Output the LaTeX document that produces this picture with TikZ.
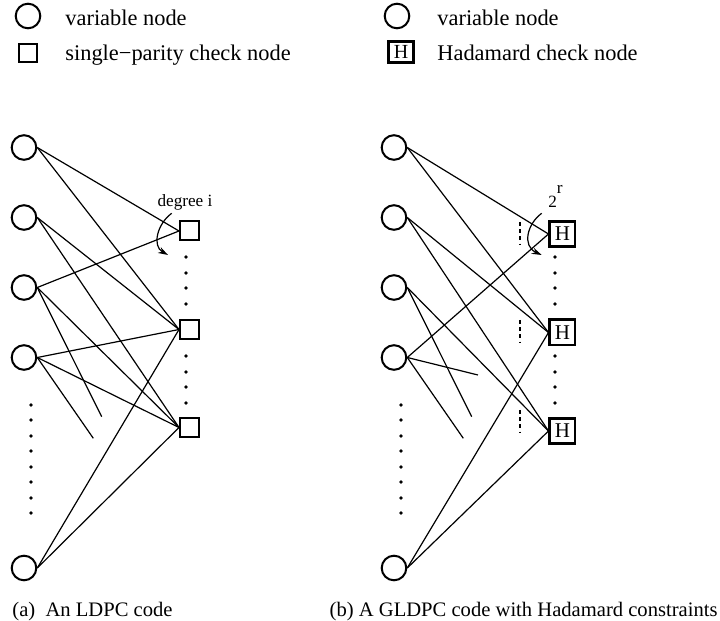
\documentclass[tikz,border=0pt]{standalone}
\usepackage{fontspec}
\setmainfont{Liberation Serif}
\usetikzlibrary{arrows.meta}
\newcommand{\legendfont}{\fontsize{11.2}{13}\selectfont}
\newcommand{\capfont}{\fontsize{10.3}{12}\selectfont}
\newcommand{\notefont}{\fontsize{8.6}{10}\selectfont}
\newcommand{\dotradius}{0.95pt}
\newcommand{\dotcolumn}[2]{%
    \foreach \yy in {#2}
        \fill (#1,\yy) circle (\dotradius);
}

\begin{document}
\begin{tikzpicture}[x=0.5pt,y=-0.5pt,
    var/.style={circle,draw,line width=1pt,minimum size=12.3pt,inner sep=0pt},
    chk/.style={rectangle,draw,line width=1pt,minimum size=9.5pt,inner sep=0pt},
    had/.style={rectangle,draw,line width=1.3pt,minimum size=12.7pt,inner sep=0pt,
        font=\fontsize{10.5}{12}\selectfont},
    edge/.style={line width=0.6pt},
    annot/.style={line width=0.6pt,-{Stealth[length=5pt,width=3.2pt]}},
    txt/.style={anchor=base west,inner sep=0pt,font=\legendfont}]

\useasboundingbox (0,0) rectangle (720,621);

% legend
\node [var] (lv1) at (28,16) {};
\node [txt] (lt1) at (65,25.5) {variable node};
\node [chk,minimum size=9pt] (lc) at (28,53) {};
\node [txt] (lt2) at (65,61) {single−parity check node};
\node [var] (lv2) at (397,16) {};
\node [txt] (lt3) at (437,25.5) {variable node};
\node [had,minimum height=10.3pt,font=\fontsize{10}{12}\selectfont] (lh) at (401,52) {H};
\node [txt] (lt4) at (437,61) {Hadamard check node};

% (a) variable and check nodes
\foreach \i/\y in {1/147.5, 2/217.5, 3/287.5, 4/357.5, 5/568}
    \node [var] (a\i) at (24,\y) {};
\foreach \i/\y in {1/231, 2/329.5, 3/427.5}
    \node [chk] (c\i) at (189.5,\y) {};
\coordinate (da1) at (101.7,416.7);
\coordinate (da2) at (93.3,438.3);

% (a) edges
\foreach \v/\c in {1/1, 1/2, 2/2, 2/3, 3/1, 3/3, 4/2, 4/3}
    \draw [edge] (a\v.east) -- (c\c.west);
\draw [edge] (a3.east) -- (da1);
\draw [edge] (a4.east) -- (da2);
\draw [edge] (c2.west) -- (a5.east);
\draw [edge] (c3.west) -- (a5.east);

% (a) dots
\dotcolumn{186}{257,273,288,304,356,372,387,403}
\dotcolumn{31}{405,420,436,451,467,482,498,513}

% (a) degree
\draw [annot] (171.7,213.3) .. controls (157,224) and (152,246) .. (168,255);
\node [anchor=base,font=\notefont] (deg) at (185,206.5) {degree i};

% (b) variable and Hadamard nodes
\foreach \i/\y in {1/147.5, 2/217.5, 3/287.5, 4/357.5, 5/568}
    \node [var] (b\i) at (394,\y) {};
\foreach \i/\y in {1/234, 2/332.5, 3/431}
    \node [had] (h\i) at (562.5,\y) {H};
\coordinate (db1) at (471.7,416.7);
\coordinate (db2) at (478,375);
\coordinate (db3) at (463.3,438.3);

% (b) edges
\foreach \v/\c in {1/1, 1/2, 2/2, 2/3, 3/3, 4/1}
    \draw [edge] (b\v.east) -- (h\c.west);
\draw [edge] (b3.east) -- (db1);
\draw [edge] (b4.east) -- (db2);
\draw [edge] (b4.east) -- (db3);
\draw [edge] (h2.west) -- (b5.east);
\draw [edge] (h3.west) -- (b5.east);

% (b) dots
\dotcolumn{555}{257,273,288,304,356,372,387,403}
\dotcolumn{401}{405,420,436,451,467,482,498,513}
\foreach \y in {222, 320, 410}
    \draw [line width=1.2pt,dash pattern=on 2pt off 1.6pt] (520,\y) -- ++(0,23);

% (b) 2^r
\draw [annot] (541.7,213.3) .. controls (527,224) and (522,246) .. (541.7,255);
\node [anchor=base west,inner sep=0pt,font=\notefont] (pow) at (548,207) {2\raisebox{7pt}{r}};

% captions
\node [anchor=base west,inner sep=0pt,font=\capfont] (capa) at (12,617) {(a)\ \ An LDPC code};
\node [anchor=base east,inner sep=0pt,font=\capfont] (capb) at (718,617) {(b) A GLDPC code with Hadamard constraints};

\end{tikzpicture}
\end{document}
